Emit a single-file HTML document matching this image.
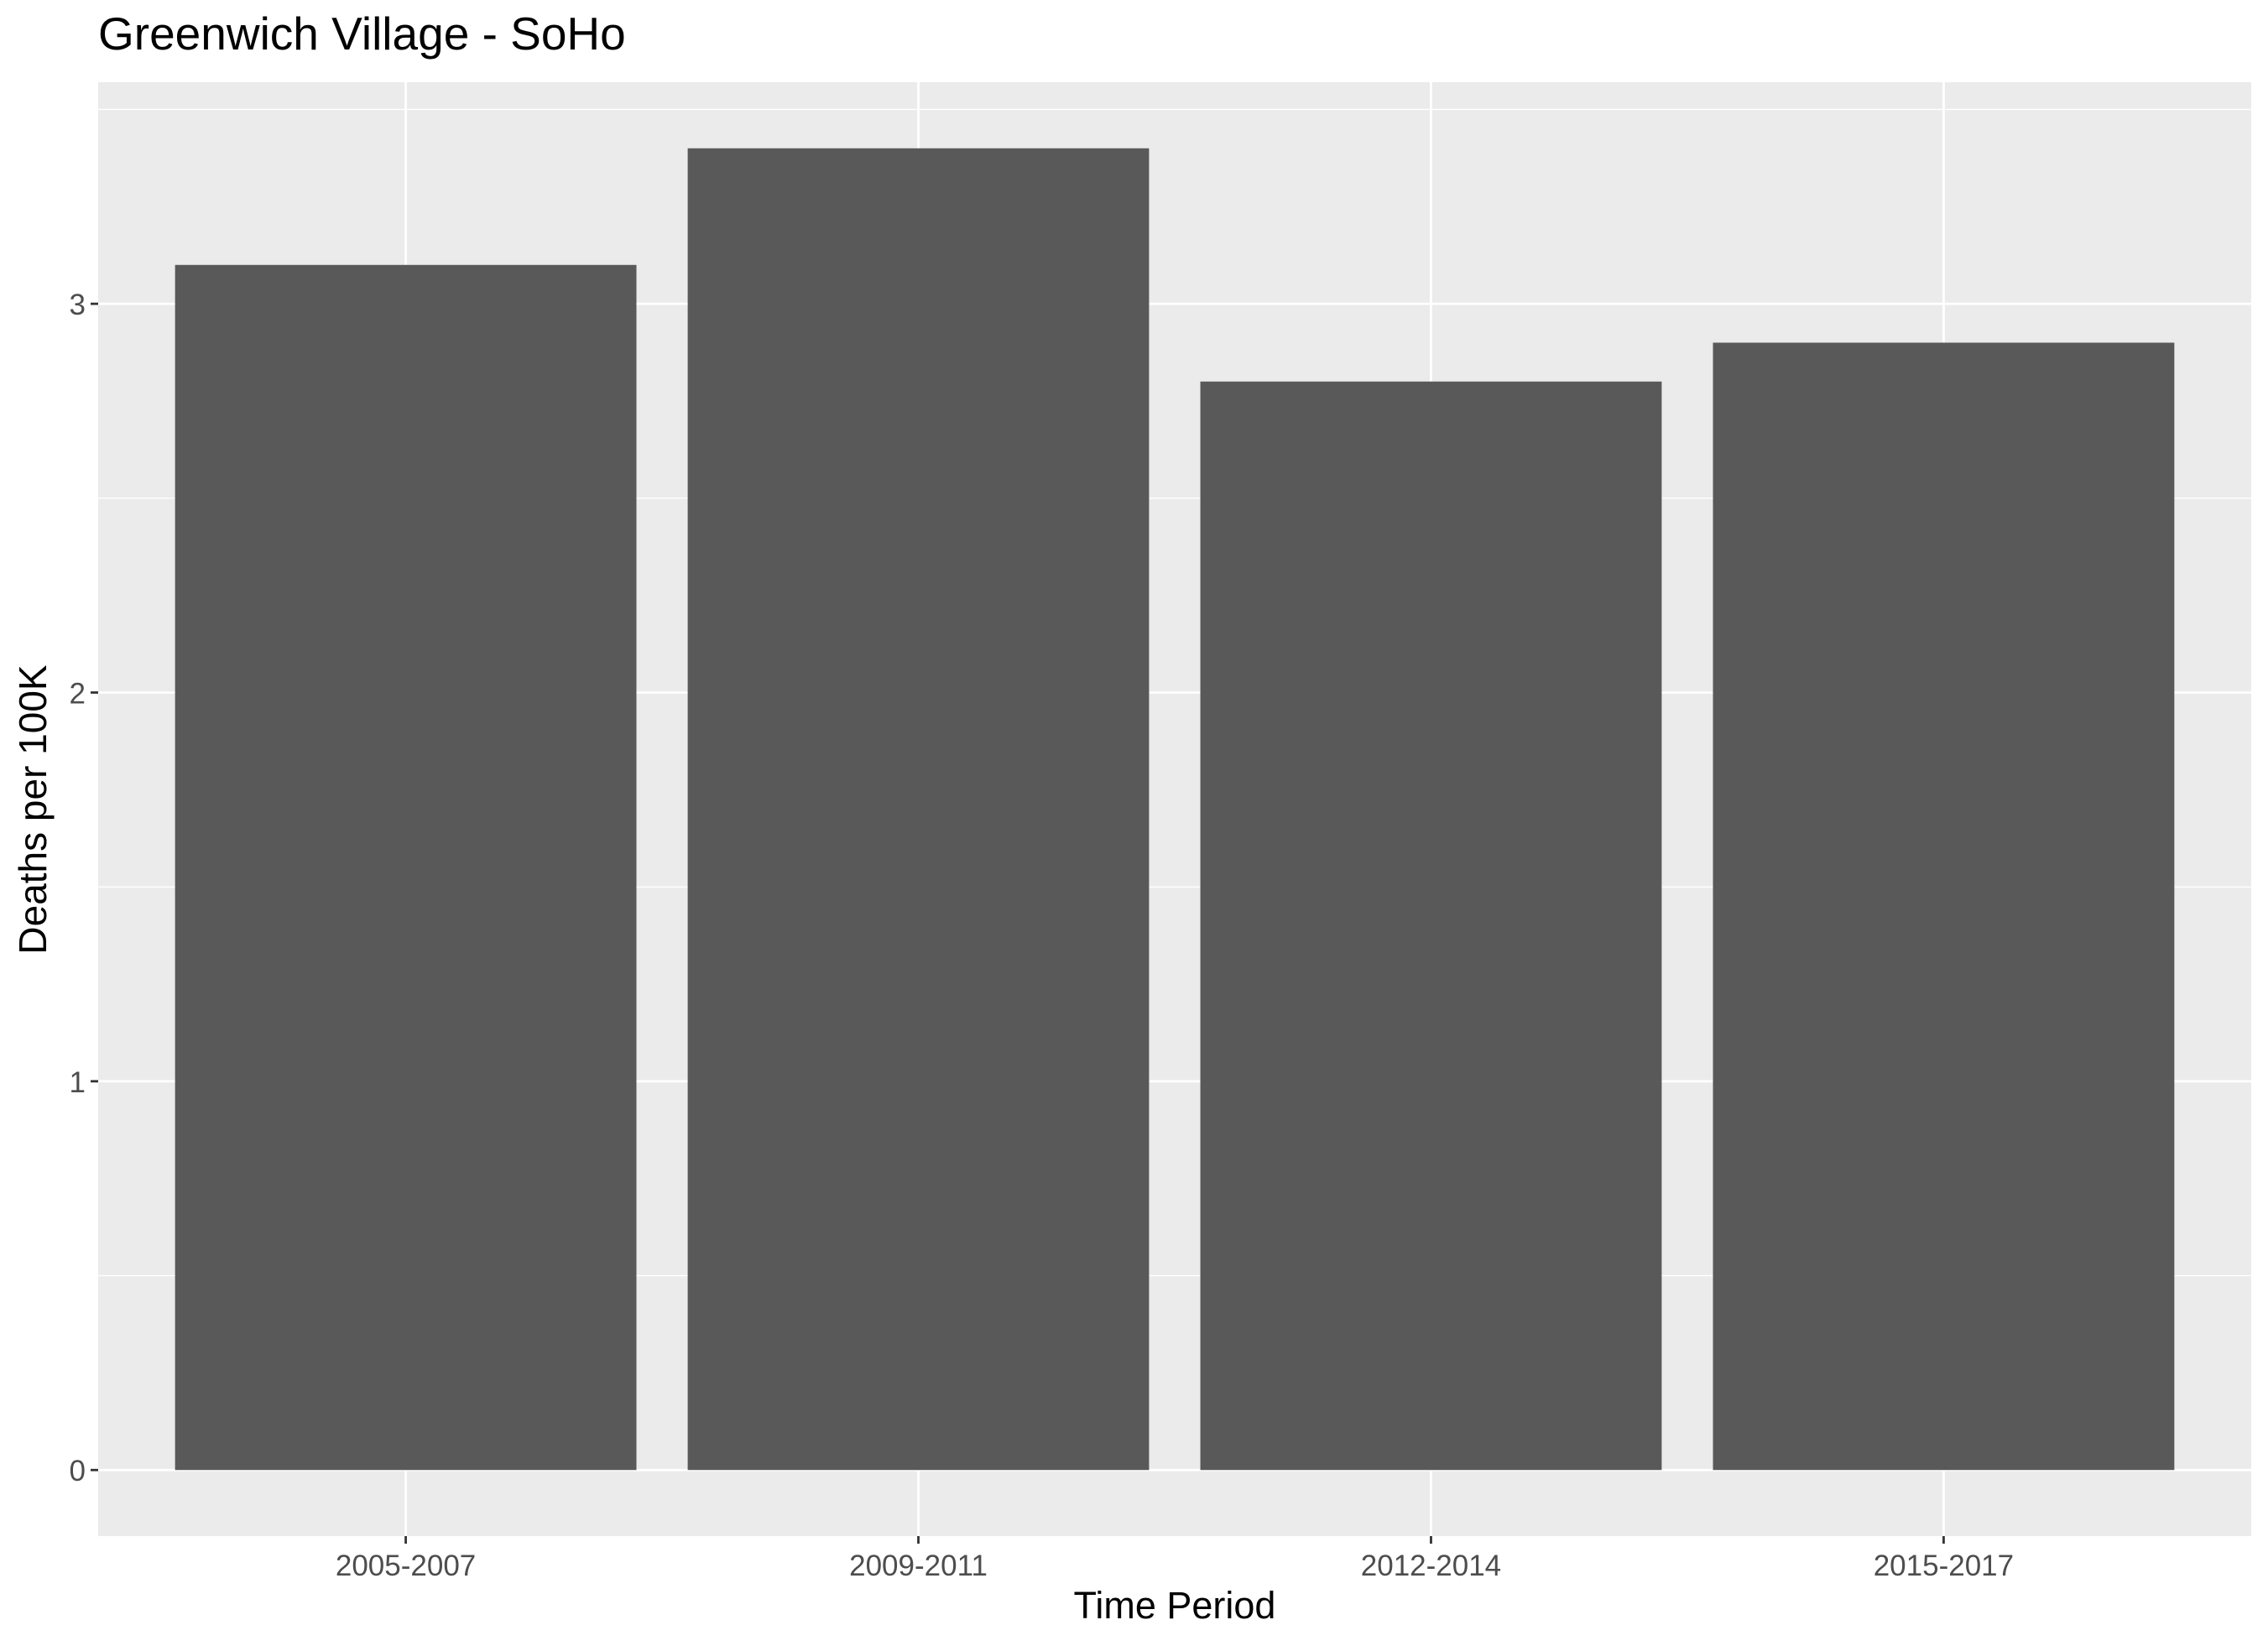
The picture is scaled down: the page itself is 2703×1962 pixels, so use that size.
<!DOCTYPE html>
<html><head><meta charset="utf-8"><style>
html,body{margin:0;padding:0;background:#fff;}
svg{display:block;font-family:"Liberation Sans",Arial,sans-serif;}
</style></head><body>
<svg id="chart" width="2703" height="1962" viewBox="0 0 2703 1962" xmlns="http://www.w3.org/2000/svg">
<rect width="2703" height="1962" fill="#fff"/>
<text x="117" y="59" font-size="55" fill="#000">Greenwich Village - SoHo</text>
<rect x="117" y="98" width="2566" height="1733" fill="#EBEBEB"/>
<g id="grid"></g>
<g id="bars"></g>
<g id="axes"></g>
<text x="1400" y="1929" font-size="45" text-anchor="middle" fill="#000">Time Period</text>
<text transform="translate(55,965) rotate(-90)" font-size="46" text-anchor="middle" fill="#000">Deaths per 100K</text>
</svg>
<script>
const categories = ["2005-2007","2009-2011","2012-2014","2015-2017"];
const values = [3.1, 3.4, 2.8, 2.9];
const yTicks = [0, 1, 2, 3];
const yMinorTicks = [0.5, 1.5, 2.5, 3.5];

const NS = "http://www.w3.org/2000/svg";
const panel = {left:117, right:2683, top:98, bottom:1831};
const yMax = Math.max(...values) * 1.05, yMin = -Math.max(...values) * 0.05;
function yScale(v){ return panel.bottom - (v - yMin) / (yMax - yMin) * (panel.bottom - panel.top); }
const step = (panel.right - panel.left) / (categories.length - 1 + 1.2);
function xScale(i){ return panel.left + step * (0.6 + i); }
function mk(tag, attrs, parent){ const e = document.createElementNS(NS, tag); for (const k in attrs) e.setAttribute(k, attrs[k]); parent.appendChild(e); return e; }

const grid = document.getElementById('grid');
yMinorTicks.forEach(v => {
  const l = mk('line', {x1:panel.left, x2:panel.right, y1:yScale(v), y2:yScale(v), stroke:'#fff', 'stroke-width':1.3}, grid);
  
  
});
yTicks.forEach(v => {
  const l = mk('line', {x1:panel.left, x2:panel.right, y1:yScale(v), y2:yScale(v), stroke:'#fff', 'stroke-width':2.8}, grid);
  
  
});
categories.forEach((c, i) => {
  const l = mk('line', {x1:xScale(i), x2:xScale(i), y1:panel.top, y2:panel.bottom, stroke:'#fff', 'stroke-width':2.8}, grid);
  
  
});

const bars = document.getElementById('bars');
const bw = step * 0.9;
values.forEach((v, i) => {
  const r = mk('rect', {x:xScale(i) - bw/2, y:yScale(v), width:bw, height:yScale(0) - yScale(v), fill:'#595959'}, bars);
  
  
});

const axes = document.getElementById('axes');
yTicks.forEach(v => {
  const t = mk('line', {x1:panel.left - 9, x2:panel.left, y1:yScale(v), y2:yScale(v), stroke:'#333', 'stroke-width':2.8}, axes);
  
  
  const tx = mk('text', {x:panel.left - 15, y:yScale(v) + 13, 'font-size':35, 'text-anchor':'end', fill:'#4D4D4D'}, axes);
  tx.textContent = String(v);
  
  
});
categories.forEach((c, i) => {
  const t = mk('line', {x1:xScale(i), x2:xScale(i), y1:panel.bottom, y2:panel.bottom + 9, stroke:'#333', 'stroke-width':2.8}, axes);
  
  
  const tx = mk('text', {x:xScale(i), y:panel.bottom + 47, 'font-size':35, 'text-anchor':'middle', fill:'#4D4D4D'}, axes);
  tx.textContent = c;
  
  
});
</script>
</body></html>
